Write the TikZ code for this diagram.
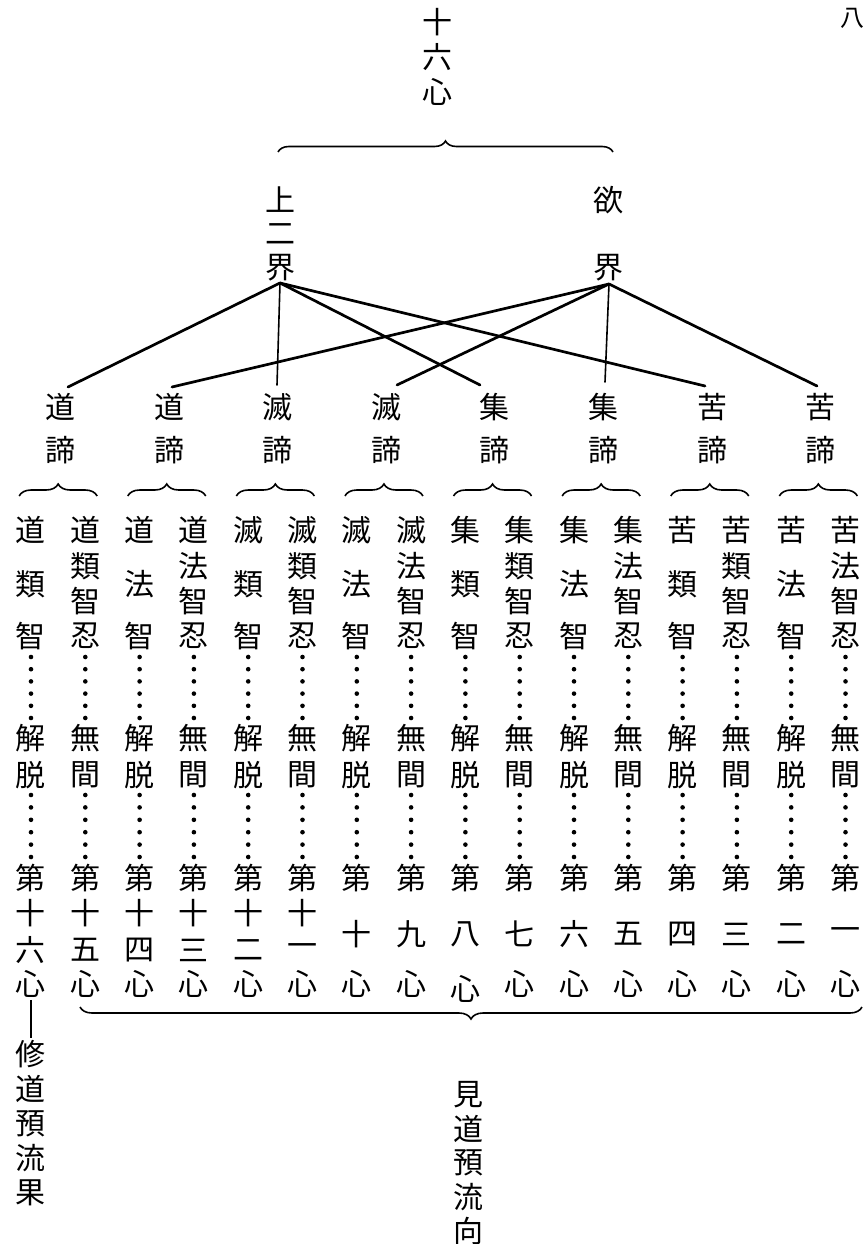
\documentclass[tikz,border=0pt]{standalone}
\usepackage{fontspec}
\newfontfamily\cjk{Noto Sans CJK JP}
\usetikzlibrary{decorations.pathreplacing}
\begin{document}
\begin{tikzpicture}[x=1pt,y=-1pt,
  ch/.style={font=\cjk\fontsize{30}{30}\selectfont,inner sep=0pt},
  smallch/.style={font=\cjk\fontsize{24}{24}\selectfont,inner sep=0pt},
  link/.style={line width=2.7pt,line cap=round},
  vlink/.style={line width=1.6pt,line cap=round},
  brc/.style={decorate,decoration={brace,amplitude=#1},line width=1.6pt},
  brc/.default=10pt]
\fill[white] (0,0) rectangle (867,1244);
\useasboundingbox (0,0) rectangle (867,1244);

% page number
\node[smallch] (pg) at (852,18) {八};

% title
\node[ch] (h1) at (437,22) {十};
\node[ch] (h2) at (437,57) {六};
\node[ch] (h3) at (437,92) {心};
\draw[brc=11pt] (278,152) -- (613,152);

% realms
\node[ch] (u1) at (280,200) {上};
\node[ch] (u2) at (280,234) {二};
\node[ch] (u3) at (280,268) {界};
\node[ch] (k1) at (608,200) {欲};
\node[ch] (k3) at (608,268) {界};
\coordinate (hubL) at (280,283);
\coordinate (hubR) at (609,284);

% satya labels
\foreach \g/\c in {0/道,1/道,2/滅,3/滅,4/集,5/集,6/苦,7/苦}{
  \pgfmathsetmacro\sx{60.5+108.6*\g}
  \node[ch] (s\g) at (\sx,407) {\c};
  \node[ch] (sd\g) at (\sx,450) {諦};
  \pgfmathsetmacro\bx{58.15+108.6*\g}
  \draw[brc=12pt] (\bx-39,496) -- (\bx+39,496);
}

% link end points
\coordinate (e0) at (68,387);
\coordinate (e1) at (172,387);
\coordinate (e2) at (277,385);
\coordinate (e3) at (397,385);
\coordinate (e4) at (480,385);
\coordinate (e5) at (605,382);
\coordinate (e6) at (705,386);
\coordinate (e7) at (817,386);
\draw[link] (hubL) -- (e0);
\draw[vlink] (hubL) -- (e2);
\draw[link] (hubL) -- (e4);
\draw[link] (hubL) -- (e6);
\draw[link] (hubR) -- (e1);
\draw[link] (hubR) -- (e3);
\draw[vlink] (hubR) -- (e5);
\draw[link] (hubR) -- (e7);

% sixteen columns
\foreach \i/\t/\m in {0/道/類,1/道/類,2/道/法,3/道/法,4/滅/類,5/滅/類,6/滅/法,7/滅/法,
                      8/集/類,9/集/類,10/集/法,11/集/法,12/苦/類,13/苦/類,14/苦/法,15/苦/法}{
  \pgfmathsetmacro\x{31+54.3*\i}
  \node[ch] (t\i) at (\x,530) {\t};
  \ifodd\i
    \node[ch] (m\i) at (\x,566) {\m};
    \node[ch] (z\i) at (\x,601) {智};
    \node[ch] (r\i) at (\x,636) {忍};
    \node[ch] (a\i) at (\x,738) {無};
    \node[ch] (b\i) at (\x,775) {間};
  \else
    \node[ch] (m\i) at (\x,584) {\m};
    \node[ch] (r\i) at (\x,636) {智};
    \node[ch] (a\i) at (\x,738) {解};
    \node[ch] (b\i) at (\x,775) {脱};
  \fi
  \foreach \k in {0,...,5}{
    \fill (\x,657+12.2*\k) circle (2.3);
    \fill (\x,795+12.4*\k) circle (2.3);
  }
  \node[ch] (d\i) at (\x,878) {第};
}
% ordinals
\foreach \i/\d in {0/六,1/五,2/四,3/三,4/二,5/一}{
  \pgfmathsetmacro\x{31+54.3*\i}
  \node[ch] (p\i) at (\x,913) {十};
  \node[ch] (q\i) at (\x,950) {\d};
  \node[ch] (c\i) at (\x,984) {心};
}
\foreach \i/\d in {6/十,7/九,8/八,9/七,10/六,11/五,12/四,13/三,14/二,15/一}{
  \pgfmathsetmacro\x{31+54.3*\i}
  \node[ch] (q\i) at (\x,934) {\d};
  \ifnum\i=8
    \node[ch] (c\i) at (\x,989) {心};
  \else
    \node[ch] (c\i) at (\x,984) {心};
  \fi
}

% bottom
\draw[line width=1.4pt] (c0.south) ++(0,2) coordinate (v0) -- (31,1038) coordinate (v1);
\draw[brc=12pt] (862,1007) -- (80,1007);
\foreach \c [count=\j from 0] in {修,道,預,流,果}{
  \node[ch] (x\j) at (31,1054+34.8*\j) {\c};
}
\foreach \c [count=\j from 0] in {見,道,預,流,向}{
  \node[ch] (y\j) at (468,1095+34*\j) {\c};
}
\end{tikzpicture}
\end{document}
